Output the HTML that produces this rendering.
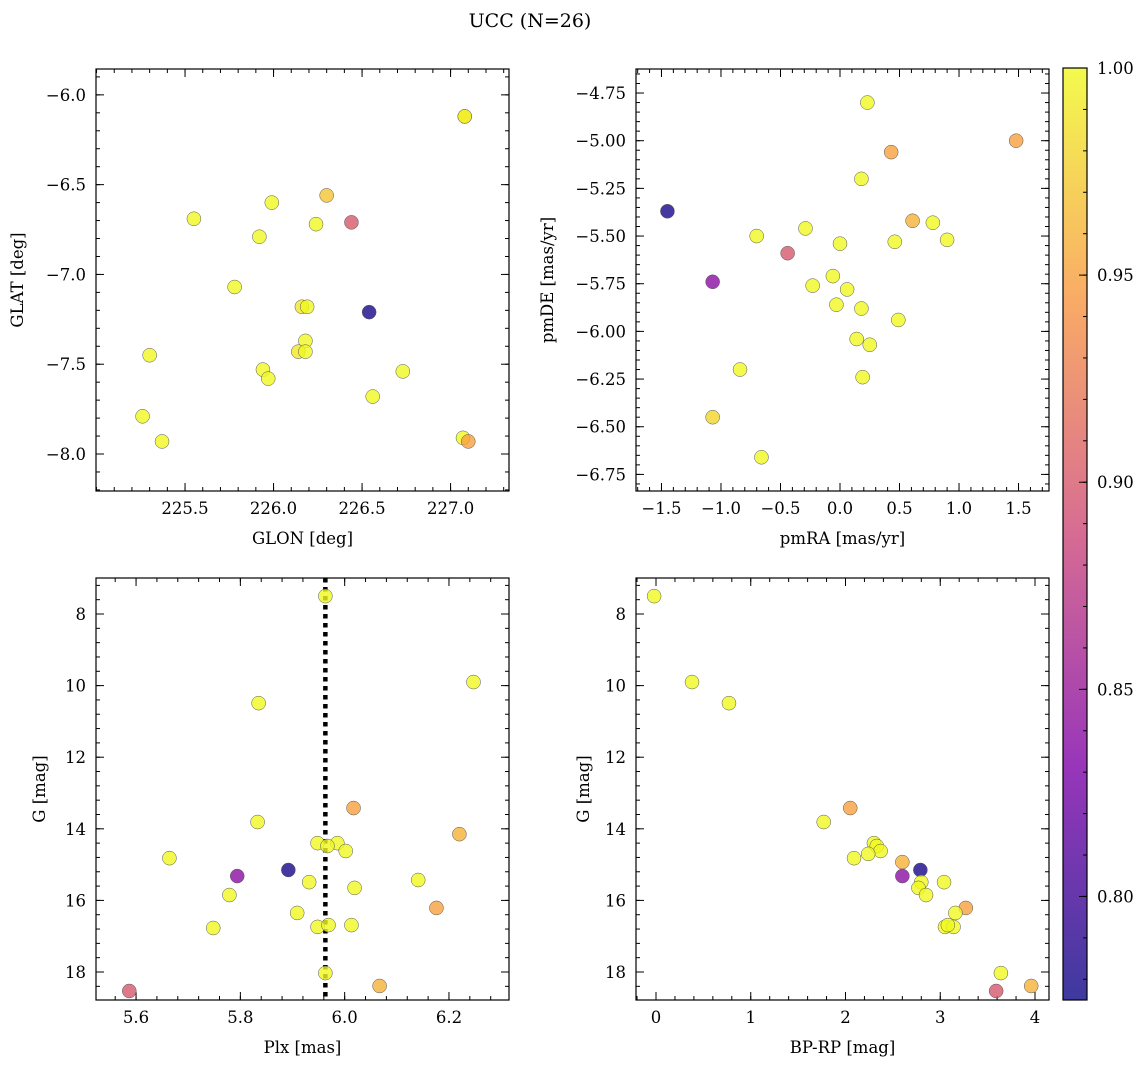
<!DOCTYPE html>
<html><head><meta charset="utf-8">
<style>
html,body{margin:0;padding:0;background:#fff;}
svg text{font-family:"DejaVu Serif","Liberation Serif",serif;fill:#000;}
</style></head>
<body>
<svg id="fig" width="1148" height="1068" xmlns="http://www.w3.org/2000/svg">
<text x="530" y="27" font-size="19" text-anchor="middle">UCC (N=26)</text>
</svg>
<script>
// Panel 1: GLON vs GLAT
const glonX=[227.08,227.08,226.30,225.55,225.99,226.44,226.24,225.92,225.78,226.16,226.19,226.54,226.18,226.14,226.18,225.30,225.94,225.97,226.73,226.56,225.26,225.37,227.07,227.10];
const glatY=[-6.12,-6.12,-6.56,-6.69,-6.60,-6.71,-6.72,-6.79,-7.07,-7.18,-7.18,-7.21,-7.37,-7.43,-7.43,-7.45,-7.53,-7.58,-7.54,-7.68,-7.79,-7.93,-7.91,-7.93];
const glatP=[0.96,1.0,0.97,1.0,1.0,0.90,1.0,1.0,1.0,0.99,1.0,0.78,1.0,0.99,1.0,1.0,1.0,1.0,1.0,1.0,1.0,1.0,1.0,0.95];
// Panel 2: pmRA vs pmDE
const pmraX=[0.23,0.43,1.48,0.18,-1.45,0.61,0.78,-0.29,-0.70,0.46,0.90,0.0,-0.44,-0.06,-1.07,-0.23,0.06,-0.03,0.18,0.49,0.14,0.25,-0.84,0.19,-1.07,-0.66];
const pmdeY=[-4.80,-5.06,-5.00,-5.20,-5.37,-5.42,-5.43,-5.46,-5.50,-5.53,-5.52,-5.54,-5.59,-5.71,-5.74,-5.76,-5.78,-5.86,-5.88,-5.94,-6.04,-6.07,-6.20,-6.24,-6.45,-6.66];
const pmP=[1.0,0.95,0.95,1.0,0.78,0.96,1.0,1.0,1.0,1.0,1.0,1.0,0.90,1.0,0.84,1.0,1.0,1.0,1.0,1.0,1.0,1.0,1.0,1.0,0.98,1.0];
// Panel 3: Plx vs G
const plxX=[5.963,6.247,5.835,6.017,5.833,5.664,5.986,5.948,5.967,6.002,6.22,5.892,5.794,5.932,6.019,6.141,5.779,6.176,5.909,5.748,5.948,5.969,6.013,5.963,5.587,6.067];
const plxG=[7.50,9.90,10.49,13.42,13.81,14.82,14.40,14.40,14.48,14.62,14.15,15.15,15.32,15.49,15.65,15.43,15.85,16.21,16.35,16.77,16.74,16.69,16.69,18.03,18.53,18.39];
const plxP=[1.0,1.0,1.0,0.95,1.0,1.0,1.0,1.0,1.0,1.0,0.96,0.78,0.84,1.0,1.0,1.0,1.0,0.95,1.0,1.0,1.0,1.0,1.0,1.0,0.90,0.96];
const plxLine=5.963;
// Panel 4: BP-RP vs G
const bprpX=[-0.02,0.38,0.77,1.77,2.05,2.09,2.30,2.33,2.37,2.24,2.60,2.79,2.60,3.04,2.80,2.77,2.85,3.27,3.16,3.05,3.14,3.08,3.64,3.59,3.96];
const bprpG=[7.50,9.90,10.49,13.81,13.42,14.82,14.40,14.48,14.62,14.70,14.93,15.15,15.32,15.49,15.49,15.65,15.85,16.21,16.35,16.74,16.74,16.69,18.03,18.53,18.39];
const bprpP=[1.0,1.0,1.0,1.0,0.95,1.0,1.0,1.0,1.0,1.0,0.96,0.78,0.84,1.0,1.0,1.0,1.0,0.95,1.0,1.0,1.0,1.0,1.0,0.90,0.96];
// Colorbar ticks
const cbTicks=[0.80,0.85,0.90,0.95,1.00];

const NS="http://www.w3.org/2000/svg";
const svg=document.getElementById('fig');
function el(t,a,p){const e=document.createElementNS(NS,t);for(const k in a)e.setAttribute(k,a[k]);(p||svg).appendChild(e);return e;}
const stops=[[0,[13,8,135]],[0.25,[126,3,168]],[0.5,[204,71,120]],[0.75,[248,149,64]],[1,[240,249,33]]];
function plasma(t){t=Math.max(0,Math.min(1,t));for(let i=1;i<stops.length;i++){if(t<=stops[i][0]){const a=stops[i-1],b=stops[i];const f=(t-a[0])/(b[0]-a[0]);const c=a[1].map((v,j)=>Math.round(v+(b[1][j]-v)*f));return `rgb(${c})`;}}return 'rgb(240,249,33)';}
const PMIN=0.775,PMAX=1.0;
function col(p){return plasma((p-PMIN)/(PMAX-PMIN));}
const FS=16.5;

function panel(o){
  const {x0,y0,w,h,xmin,xmax,ymin,ymax,yinv,xt,yt,xm,ym,xfmt,yfmt,xlab,ylab,name}=o;
  const g=el('g',{});
  
  
  const sx=v=>x0+(v-xmin)/(xmax-xmin)*w;
  const sy=v=>yinv? y0+(v-ymin)/(ymax-ymin)*h : y0+h-(v-ymin)/(ymax-ymin)*h;
  const eps=1e-9;
  function xticks(step,len){for(let v=Math.ceil(xmin/step-eps)*step;v<=xmax+eps;v+=step){const x=sx(v);el('line',{x1:x,x2:x,y1:y0+h,y2:y0+h-len,stroke:'#000'},g);el('line',{x1:x,x2:x,y1:y0,y2:y0+len,stroke:'#000'},g);}}
  function yticks(step,len){for(let v=Math.ceil(ymin/step-eps)*step;v<=ymax+eps;v+=step){const y=sy(v);el('line',{x1:x0,x2:x0+len,y1:y,y2:y,stroke:'#000'},g);el('line',{x1:x0+w,x2:x0+w-len,y1:y,y2:y,stroke:'#000'},g);}}
  xticks(xm,4);yticks(ym,4);
  xt.forEach(v=>{const x=sx(v);el('line',{x1:x,x2:x,y1:y0+h,y2:y0+h-8,stroke:'#000'},g);el('line',{x1:x,x2:x,y1:y0,y2:y0+8,stroke:'#000'},g);
    const t=el('text',{x:x,y:y0+h+23,'font-size':FS,'text-anchor':'middle'},g);t.textContent=xfmt(v);
    });
  yt.forEach(v=>{const y=sy(v);el('line',{x1:x0,x2:x0+8,y1:y,y2:y,stroke:'#000'},g);el('line',{x1:x0+w,x2:x0+w-8,y1:y,y2:y,stroke:'#000'},g);
    const t=el('text',{x:x0-10,y:y+6,'font-size':FS,'text-anchor':'end'},g);t.textContent=yfmt(v);
    });
  el('rect',{x:x0,y:y0,width:w,height:h,fill:'none',stroke:'#000','stroke-width':1.2},g);
  const xl=el('text',{x:x0+w/2,y:y0+h+53,'font-size':FS,'text-anchor':'middle'},g);xl.textContent=xlab;
  
  const yx=o.ylabx, yy=y0+h/2;
  const yl=el('text',{x:yx,y:yy,'font-size':FS,'text-anchor':'middle',transform:`rotate(-90 ${yx} ${yy})`},g);yl.textContent=ylab;
  
  return {g,sx,sy};
}
function dots(P,xs,ys,ps){
  xs.forEach((v,i)=>{
    const c=el('circle',{cx:P.sx(v),cy:P.sy(ys[i]),r:7,fill:col(ps[i]),'fill-opacity':0.8,stroke:'#555','stroke-width':0.5},P.g);
    
    
  });
}
const f1=v=>v.toFixed(1).replace('-','\u2212'), f2=v=>v.toFixed(2).replace('-','\u2212'), f0=v=>v.toFixed(0).replace('-','\u2212');

const P1=panel({name:'glon-glat-panel',x0:96,y0:69,w:413,h:422,xmin:224.997,xmax:227.33,ymin:-8.206,ymax:-5.856,xt:[225.5,226.0,226.5,227.0],yt:[-6.0,-6.5,-7.0,-7.5,-8.0],xm:0.1,ym:0.1,xfmt:f1,yfmt:f1,xlab:'GLON [deg]',ylab:'GLAT [deg]',ylabx:23});
dots(P1,glonX,glatY,glatP);
const P2=panel({name:'proper-motion-panel',x0:636,y0:69,w:413,h:422,xmin:-1.714,xmax:1.756,ymin:-6.8370,ymax:-4.6240,xt:[-1.5,-1.0,-0.5,0.0,0.5,1.0,1.5],yt:[-4.75,-5.0,-5.25,-5.5,-5.75,-6.0,-6.25,-6.5,-6.75],xm:0.1,ym:0.05,xfmt:f1,yfmt:f2,xlab:'pmRA [mas/yr]',ylab:'pmDE [mas/yr]',ylabx:553});
dots(P2,pmraX,pmdeY,pmP);
const P3=panel({name:'parallax-panel',x0:96,y0:578,w:413,h:422,xmin:5.5232,xmax:6.3151,ymin:6.994,ymax:18.782,yinv:true,xt:[5.6,5.8,6.0,6.2],yt:[8,10,12,14,16,18],xm:0.04,ym:0.4,xfmt:f1,yfmt:f0,xlab:'Plx [mas]',ylab:'G [mag]',ylabx:45});
el('line',{x1:P3.sx(plxLine),x2:P3.sx(plxLine),y1:578,y2:1000,stroke:'#000','stroke-width':4.5,'stroke-dasharray':'4.5 4.5'},P3.g);
dots(P3,plxX,plxG,plxP);
const P4=panel({name:'cmd-panel',x0:636,y0:578,w:413,h:422,xmin:-0.2111,xmax:4.1478,ymin:6.994,ymax:18.782,yinv:true,xt:[0,1,2,3,4],yt:[8,10,12,14,16,18],xm:0.2,ym:0.4,xfmt:f0,yfmt:f0,xlab:'BP-RP [mag]',ylab:'G [mag]',ylabx:589});
dots(P4,bprpX,bprpG,bprpP);

// colorbar
const cb=el('g',{});


const defs=el('defs',{});
const lg=el('linearGradient',{id:'cbg',x1:0,y1:1,x2:0,y2:0},defs);
for(let i=0;i<=20;i++){el('stop',{offset:i/20,'stop-color':plasma(i/20),'stop-opacity':0.8},lg);}
const cbx=1063,cby=68,cbw=24,cbh=932;
const cy=v=>cby+cbh-(v-PMIN)/(PMAX-PMIN)*cbh;
el('rect',{x:cbx,y:cby,width:cbw,height:cbh,fill:'url(#cbg)'},cb);
for(let v=0.78;v<=1.0001;v+=0.01){const y=cy(v);el('line',{x1:cbx+cbw,x2:cbx+cbw-4,y1:y,y2:y,stroke:'#000'},cb);}
cbTicks.forEach(v=>{const y=cy(v);el('line',{x1:cbx+cbw,x2:cbx+cbw-8,y1:y,y2:y,stroke:'#000'},cb);
  const t=el('text',{x:cbx+cbw+10,y:y+6,'font-size':FS},cb);t.textContent=v.toFixed(2);
  });
el('rect',{x:cbx,y:cby,width:cbw,height:cbh,fill:'none',stroke:'#000','stroke-width':1.2},cb);
</script>
</body></html>
